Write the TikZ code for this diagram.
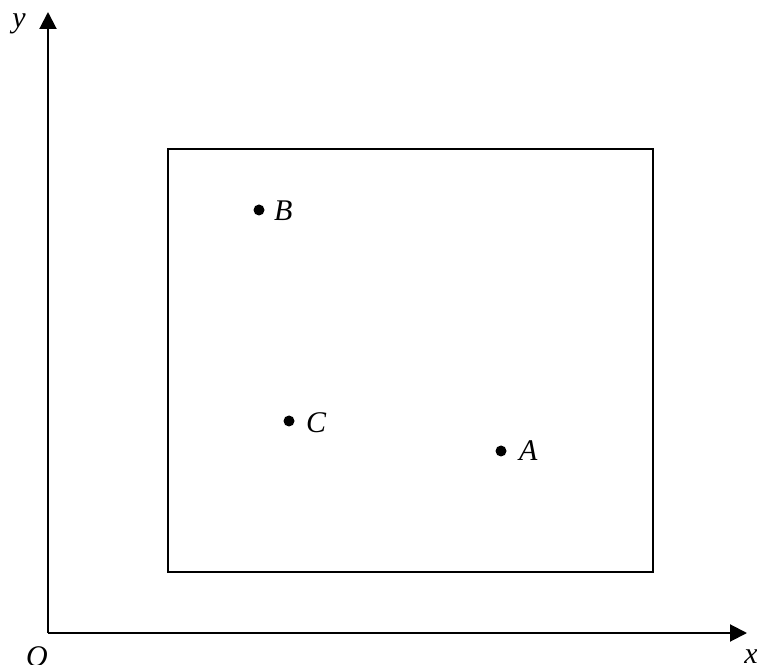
\documentclass[tikz,border=0pt]{standalone}
\usepackage{fontspec}
\setmainfont{Liberation Serif}
\usetikzlibrary{arrows.meta}
\begin{document}
\begin{tikzpicture}[x=1pt,y=1pt,
  axis/.style={line width=2pt,-{Triangle[length=17pt,width=17pt]}},
  pt/.style={circle,fill=black,inner sep=0pt,minimum size=11pt},
  lbl/.style={font=\fontsize{30}{34}\selectfont\itshape,inner sep=0pt}]
\useasboundingbox (0,0) rectangle (757,664);
\coordinate (O) at (48,31);
\coordinate (Y) at (48,652);
\coordinate (X) at (747,31);
\draw[axis] (O) -- (Y);
\draw[axis] (O) -- (X);
\node[lbl] (ly) at (19,640) {y};
\node[lbl] (lO) at (37,7) {O};
\node[lbl] (lx) at (751,7) {x};
\draw[line width=1.5pt] (168,92) rectangle (653,515);
\node[pt] (B) at (259,454) {};
\node[pt] (C) at (289,243) {};
\node[pt] (A) at (501,213) {};
\node[lbl,anchor=west] (lB) at (274,453) {B};
\node[lbl,anchor=west] (lC) at (306,241) {C};
\node[lbl,anchor=west] (lA) at (519,213) {A};
\end{tikzpicture}
\end{document}
